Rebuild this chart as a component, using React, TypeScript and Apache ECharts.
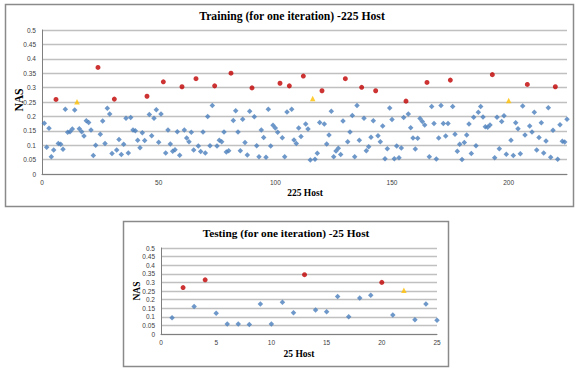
import React, { useEffect, useRef } from "react";
import * as echarts from "echarts";

// ---- Data ----
// NAS value for hosts 1..225 (training)
const trainNAS = [
  0.176, 0.093, 0.159, 0.06, 0.083, 0.259, 0.106, 0.103, 0.086, 0.225,
  0.145, 0.147, 0.156, 0.222, 0.251, 0.157, 0.147, 0.132, 0.185, 0.179,
  0.153, 0.064, 0.1, 0.37, 0.138, 0.184, 0.106, 0.228, 0.208, 0.071,
  0.26, 0.083, 0.12, 0.068, 0.103, 0.194, 0.073, 0.196, 0.153, 0.15,
  0.117, 0.091, 0.143, 0.116, 0.27, 0.207, 0.133, 0.194, 0.223, 0.11,
  0.208, 0.32, 0.073, 0.153, 0.104, 0.079, 0.084, 0.147, 0.065, 0.303,
  0.153, 0.125, 0.112, 0.145, 0.083, 0.331, 0.097, 0.078, 0.146, 0.073,
  0.2, 0.098, 0.238, 0.306, 0.097, 0.117, 0.112, 0.146, 0.076, 0.081,
  0.35, 0.186, 0.22, 0.146, 0.081, 0.19, 0.109, 0.066, 0.218, 0.299,
  0.199, 0.098, 0.06, 0.153, 0.127, 0.058, 0.225, 0.097, 0.169, 0.16,
  0.145, 0.315, 0.126, 0.06, 0.215, 0.306, 0.225, 0.118, 0.106, 0.16,
  0.13, 0.34, 0.174, 0.156, 0.049, 0.262, 0.051, 0.072, 0.179, 0.289,
  0.174, 0.104, 0.135, 0.218, 0.06, 0.08, 0.089, 0.068, 0.184, 0.331,
  0.112, 0.146, 0.203, 0.06, 0.238, 0.117, 0.301, 0.194, 0.081, 0.095,
  0.128, 0.185, 0.289, 0.133, 0.112, 0.167, 0.053, 0.088, 0.229, 0.189,
  0.053, 0.097, 0.056, 0.09, 0.196, 0.253, 0.208, 0.161, 0.125, 0.087,
  0.124, 0.193, 0.182, 0.17, 0.318, 0.06, 0.234, 0.175, 0.052, 0.125,
  0.238, 0.175, 0.132, 0.175, 0.326, 0.234, 0.138, 0.079, 0.103, 0.05,
  0.109, 0.135, 0.174, 0.071, 0.197, 0.098, 0.214, 0.234, 0.198, 0.164,
  0.162, 0.17, 0.345, 0.056, 0.197, 0.088, 0.182, 0.202, 0.069, 0.255,
  0.117, 0.064, 0.178, 0.157, 0.07, 0.236, 0.135, 0.311, 0.167, 0.146,
  0.214, 0.083, 0.127, 0.178, 0.073, 0.115, 0.23, 0.058, 0.152, 0.303,
  0.051, 0.171, 0.114, 0.111, 0.19,
];
const trainRedHosts = [6, 24, 31, 45, 52, 60, 66, 74, 81, 90, 102, 106, 112, 120, 130, 137, 143, 156, 165, 175, 193, 208, 220];
const trainYellowHosts = [15, 116, 200];

// NAS value for hosts 1..25 (testing)
const testNAS = [
  0.095, 0.27, 0.16, 0.315, 0.12, 0.058, 0.058, 0.055, 0.175, 0.058,
  0.185, 0.123, 0.345, 0.14, 0.13, 0.218, 0.1, 0.21, 0.225, 0.3,
  0.11, 0.255, 0.083, 0.175, 0.08,
];
const testRedHosts = [2, 4, 13, 20];
const testYellowHosts = [22];

const trainTitle = "Training (for one iteration) -225 Host";
const testTitle = "Testing (for one iteration) -25 Host";
const trainXName = "225 Host";
const testXName = "25 Host";
const yName = "NAS";

// ---- Styles ----
const BLUE = "#4a7ebb";
const RED = "#c00000";
const YELLOW = "#ffc000";
const SERIF = '"Liberation Serif", "Times New Roman", serif';
const SANS = '"Liberation Sans", Arial, sans-serif';

type Pt = [number, number];
function splitPoints(values: number[], red: number[], yellow: number[]) {
  const blue: Pt[] = [];
  const r: Pt[] = [];
  const y: Pt[] = [];
  values.forEach((v, i) => {
    const h = i + 1;
    const p: Pt = [h, v];
    if (red.includes(h)) r.push(p);
    else if (yellow.includes(h)) y.push(p);
    else blue.push(p);
  });
  return { blue, r, y };
}

function yAxisCfg(gridIndex: number) {
  return {
    type: "value",
    gridIndex,
    min: 0,
    max: 0.5,
    interval: 0.05,
    axisLine: { show: true, lineStyle: { color: "#7f7f7f", width: 1 } },
    axisTick: { show: false },
    axisLabel: {
      fontSize: 6.5,
      fontFamily: SANS,
      color: "#404040",
      margin: 6,
      formatter: (v: number) => String(parseFloat(v.toFixed(2))),
    },
    splitLine: { show: true, lineStyle: { color: "#c0c0c0", width: 1.3 } },
  };
}

function xAxisCfg(gridIndex: number, max: number, interval: number) {
  return {
    type: "value",
    gridIndex,
    min: 0,
    max,
    interval,
    axisLine: { show: true, onZero: false, lineStyle: { color: "#7f7f7f", width: 1 } },
    axisTick: { show: false },
    splitLine: { show: false },
    axisLabel: {
      fontSize: 6.5,
      fontFamily: SANS,
      color: "#404040",
      margin: 5,
      formatter: (v: number) => (v % interval === 0 ? String(v) : ""),
    },
  };
}

function seriesFor(pts: { blue: Pt[]; r: Pt[]; y: Pt[] }, idx: number, size: number) {
  return [
    {
      type: "scatter",
      xAxisIndex: idx,
      yAxisIndex: idx,
      data: pts.blue,
      symbol: "diamond",
      symbolSize: size,
      itemStyle: { color: BLUE },
      z: 2,
    },
    {
      type: "scatter",
      xAxisIndex: idx,
      yAxisIndex: idx,
      data: pts.r,
      symbol: "circle",
      symbolSize: size - 0.5,
      itemStyle: { color: RED },
      z: 3,
    },
    {
      type: "scatter",
      xAxisIndex: idx,
      yAxisIndex: idx,
      data: pts.y,
      symbol: "triangle",
      symbolSize: size,
      itemStyle: { color: YELLOW },
      z: 3,
    },
  ];
}

function text(x: number, y: number, t: string, size: number, rotate = false) {
  return {
    type: "text",
    x,
    y,
    rotation: rotate ? Math.PI / 2 : 0,
    style: {
      text: t,
      fontSize: size,
      fontWeight: "bold",
      fontFamily: SERIF,
      fill: "#000",
      align: "center",
      verticalAlign: "middle",
    },
    z: 10,
  };
}

export default function App() {
  const ref = useRef<HTMLDivElement>(null);

  useEffect(() => {
    if (!ref.current) return;
    const chart = echarts.init(ref.current, undefined, { renderer: "svg" });
    const trainPts = splitPoints(trainNAS, trainRedHosts, trainYellowHosts);
    const testPts = splitPoints(testNAS, testRedHosts, testYellowHosts);

    chart.setOption({
      animation: false,
      backgroundColor: "#ffffff",
      grid: [
        { left: 42, top: 30, width: 525, height: 144 },
        { left: 161, top: 248, width: 276, height: 86 },
      ],
      xAxis: [xAxisCfg(0, 225, 50), xAxisCfg(1, 25, 5)],
      yAxis: [yAxisCfg(0), yAxisCfg(1)],
      series: [...seriesFor(trainPts, 0, 5.5), ...seriesFor(testPts, 1, 5.5)],
      graphic: [
        {
          type: "rect",
          shape: { x: 5.5, y: 4.5, width: 568, height: 202 },
          style: { fill: "none", stroke: "#8a8a8a", lineWidth: 1.5 },
          z: 1,
        },
        {
          type: "rect",
          shape: { x: 123.5, y: 221.5, width: 325, height: 145 },
          style: { fill: "none", stroke: "#8a8a8a", lineWidth: 1.5 },
          z: 1,
        },
        text(292, 16, trainTitle, 11.7),
        text(305, 193, trainXName, 9.5),
        text(19, 100, yName, 11.5, true),
        text(286, 233, testTitle, 11.3),
        text(299, 354, testXName, 9.5),
        text(137, 291, yName, 9.5, true),
      ],
    });
    return () => chart.dispose();
  }, []);

  return (
    <div
      ref={ref}
      style={{ position: "absolute", left: 0, top: 0, width: 575, height: 369, background: "#fff" }}
    />
  );
}
